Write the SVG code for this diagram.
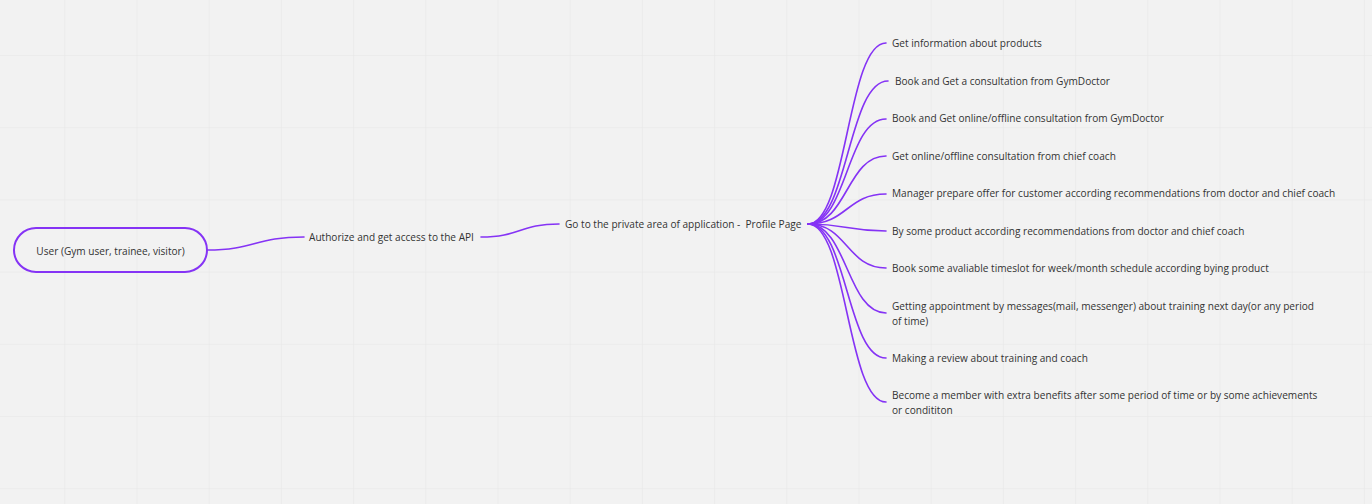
<svg xmlns="http://www.w3.org/2000/svg" width="1372" height="504" viewBox="0 0 1372 504">
<defs>
<pattern id="grid" x="64.3" y="55" width="72.2" height="72.2" patternUnits="userSpaceOnUse">
<path d="M0 0H72.2M0 0V72.2" fill="none" stroke="#e6e6e6" stroke-width="1"/>
</pattern>
<style>
.t{font-family:"Open Sans","Liberation Sans",sans-serif;font-size:10.1px;fill:#333;white-space:pre}
.c{fill:none;stroke:#8533f5;stroke-width:1.6;stroke-linecap:round}
.n{fill:none;stroke:#8533f5;stroke-width:2}
</style>
</defs>
<rect width="1372" height="504" fill="#f2f2f2"/>
<rect width="1372" height="504" fill="url(#grid)"/>
<g id="connectors">
<path class="c" d="M207,250 C255,250 255,237 304,237"/>
<path class="c" d="M481,237 C520,237 520,224 559,224"/>
<path class="c" d="M808,224 C847,224 847,43 886,43"/>
<path class="c" d="M808,224 C848,224 848,81 888,81"/>
<path class="c" d="M808,224 C847,224 847,119 886,119"/>
<path class="c" d="M808,224 C847,224 847,156 886,156"/>
<path class="c" d="M808,224 C847,224 847,194 886,194"/>
<path class="c" d="M808,224 C847,224 847,231 886,231"/>
<path class="c" d="M808,224 C847,224 847,268 886,268"/>
<path class="c" d="M808,224 C847,224 847,313 886,313"/>
<path class="c" d="M808,224 C847,224 847,358 886,358"/>
<path class="c" d="M808,224 C847,224 847,402 886,402"/>
</g>
<g id="user">
<rect class="n" x="14" y="228" width="193" height="44" rx="22"/>
<text class="t" x="110.5" y="254.5" text-anchor="middle">User (Gym user, trainee, visitor)</text>
</g>
<g id="authorize"><text class="t" x="309" y="240.5">Authorize and get access to the API</text></g>
<g id="profile"><text class="t" x="565" y="227.5" xml:space="preserve">Go to the private area of application -  Profile Page</text></g>
<g id="i1"><text class="t" x="892" y="46.5">Get information about products</text></g>
<g id="i2"><text class="t" x="895" y="84.5">Book and Get a consultation from GymDoctor</text></g>
<g id="i3"><text class="t" x="892" y="121.5">Book and Get online/offline consultation from GymDoctor</text></g>
<g id="i4"><text class="t" x="892" y="159.5">Get online/offline consultation from chief coach</text></g>
<g id="i5"><text class="t" x="892" y="196.5">Manager prepare offer for customer according recommendations from doctor and chief coach</text></g>
<g id="i6"><text class="t" x="892" y="234.5">By some product according recommendations from doctor and chief coach</text></g>
<g id="i7"><text class="t" x="892" y="271.5">Book some avaliable timeslot for week/month schedule according bying product</text></g>
<g id="i8"><text class="t" x="892" y="309.5">Getting appointment by messages(mail, messenger) about training next day(or any period<tspan x="892" y="324.5">of time)</tspan></text></g>
<g id="i9"><text class="t" x="892" y="361.5">Making a review about training and coach</text></g>
<g id="i10"><text class="t" x="892" y="398.5">Become a member with extra benefits after some period of time or by some achievements<tspan x="892" y="413.5">or condititon</tspan></text></g>
</svg>
